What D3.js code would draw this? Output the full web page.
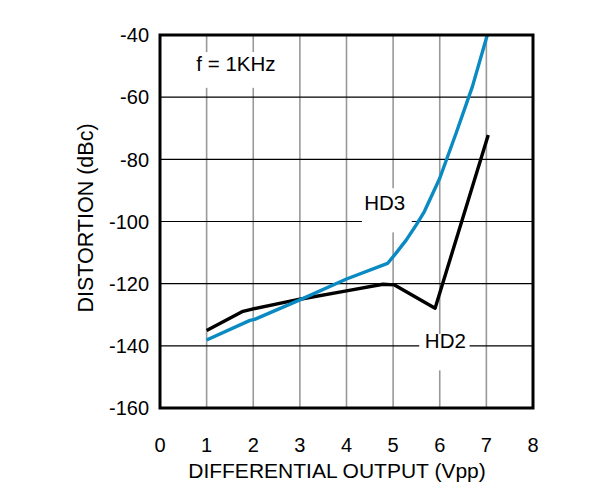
<!DOCTYPE html>
<html lang="en">
  <head>
    <meta charset="utf-8" />
    <title>Distortion vs Differential Output</title>
    <style>
      html,
      body {
        margin: 0;
        background: #fff;
      }
      text {
        font-family: 'Liberation Sans', Arial, sans-serif;
        fill: #000;
      }
    </style>
  </head>
  <body>
    <svg></svg>
    <script src="https://d3js.org/d3.v7.min.js"></script>
    <script type="text/javascript">
      let width = 594,
        height = 499

      // data
      let xTicks = [0, 1, 2, 3, 4, 5, 6, 7, 8]
      let yTicks = [-160, -140, -120, -100, -80, -60, -40]

      let hd2 = [
        [1.0, -135.1],
        [1.78, -128.9],
        [2.0, -128.1],
        [3.0, -125.0],
        [4.0, -122.3],
        [4.78, -120.2],
        [5.03, -120.4],
        [5.9, -127.9],
        [7.04, -72.2],
      ]

      let hd3 = [
        [1.0, -138.1],
        [1.93, -131.8],
        [2.03, -131.5],
        [3.0, -125.2],
        [4.0, -118.5],
        [4.88, -113.5],
        [5.05, -110.4],
        [5.28, -106.0],
        [5.5, -101.0],
        [5.67, -96.8],
        [6.0, -86.1],
        [6.35, -71.6],
        [6.7, -56.6],
        [7.02, -40.0],
      ]

      let svg = d3.select('svg').attr('width', width).attr('height', height)

      let x = d3.scaleLinear().domain([0, 8]).range([160, 533])
      let y = d3.scaleLinear().domain([-160, -40]).range([408, 35])

      // grid
      svg
        .append('g')
        .selectAll('line')
        .data(xTicks.slice(1, -1))
        .join('line')
        .attr('x1', (d) => x(d))
        .attr('x2', (d) => x(d))
        .attr('y1', y(-160))
        .attr('y2', y(-40))
        .attr('stroke', '#999')
        .attr('stroke-width', 1.6)

      svg
        .append('g')
        .selectAll('line')
        .data(yTicks.slice(1, -1))
        .join('line')
        .attr('x1', x(0))
        .attr('x2', x(8))
        .attr('y1', (d) => y(d))
        .attr('y2', (d) => y(d))
        .attr('stroke', '#000')
        .attr('stroke-width', 1.2)

      // white boxes behind annotations
      let notes = [
        { text: 'f = 1KHz', x: 0.78, y: -51.5, box: [0.7, 2.7, -45.5, -57] },
        { text: 'HD3', x: 4.38, y: -96.2, box: [4.33, 5.4, -89.3, -103.5] },
        { text: 'HD2', x: 5.68, y: -140.8, box: [5.56, 6.64, -136.2, -147.9] },
      ]

      svg
        .append('g')
        .selectAll('rect')
        .data(notes)
        .join('rect')
        .attr('x', (d) => x(d.box[0]))
        .attr('y', (d) => y(d.box[2]))
        .attr('width', (d) => x(d.box[1]) - x(d.box[0]))
        .attr('height', (d) => y(d.box[3]) - y(d.box[2]))
        .attr('fill', '#fff')

      svg
        .append('g')
        .selectAll('text')
        .data(notes)
        .join('text')
        .attr('x', (d) => x(d.x))
        .attr('y', (d) => y(d.y))
        .attr('font-size', 20.5)
        .text((d) => d.text)

      // curves
      let line = d3
        .line()
        .x((d) => x(d[0]))
        .y((d) => y(d[1]))

      svg
        .append('path')
        .datum(hd2)
        .attr('d', line)
        .attr('fill', 'none')
        .attr('stroke', '#000')
        .attr('stroke-width', 3.4)
        .attr('stroke-linejoin', 'round')

      svg
        .append('path')
        .datum(hd3)
        .attr('d', line)
        .attr('fill', 'none')
        .attr('stroke', '#0a8ac2')
        .attr('stroke-width', 3.4)
        .attr('stroke-linejoin', 'round')

      // frame
      svg
        .append('rect')
        .attr('x', x(0))
        .attr('y', y(-40))
        .attr('width', x(8) - x(0))
        .attr('height', y(-160) - y(-40))
        .attr('fill', 'none')
        .attr('stroke', '#000')
        .attr('stroke-width', 3)

      // tick labels
      svg
        .append('g')
        .selectAll('text')
        .data(yTicks)
        .join('text')
        .attr('x', 149)
        .attr('y', (d) => y(d))
        .attr('dy', '0.36em')
        .attr('text-anchor', 'end')
        .attr('font-size', 20)
        .text((d) => d)

      svg
        .append('g')
        .selectAll('text')
        .data(xTicks)
        .join('text')
        .attr('x', (d) => x(d))
        .attr('y', 452)
        .attr('text-anchor', 'middle')
        .attr('font-size', 20)
        .text((d) => d)

      // axis titles
      svg
        .append('text')
        .attr('x', 337)
        .attr('y', 478)
        .attr('text-anchor', 'middle')
        .attr('font-size', 21)
        .text('DIFFERENTIAL OUTPUT (Vpp)')

      svg
        .append('text')
        .attr('transform', 'translate(93,218) rotate(-90)')
        .attr('text-anchor', 'middle')
        .attr('font-size', 21.5)
        .text('DISTORTION (dBc)')
    </script>
  </body>
</html>
